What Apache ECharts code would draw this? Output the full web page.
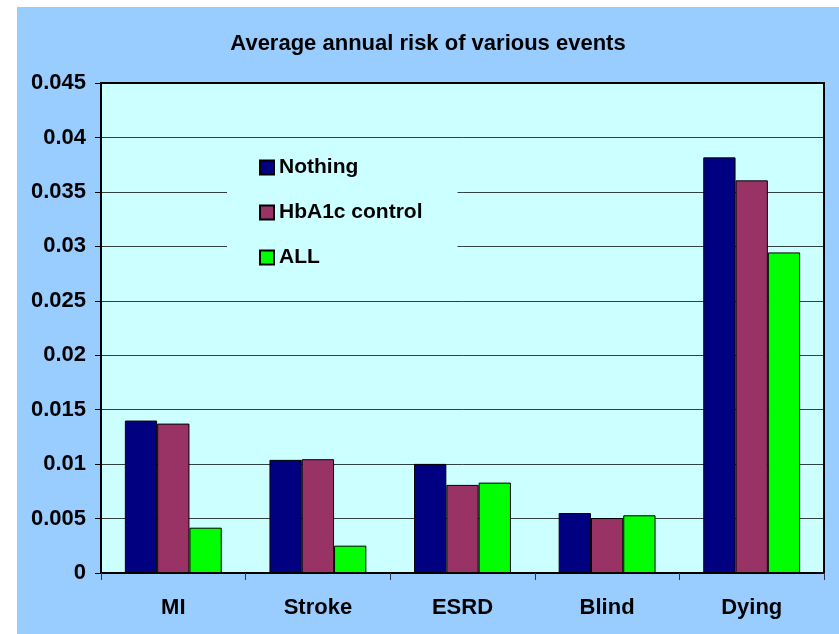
<!DOCTYPE html>
<html>
<head>
<meta charset="utf-8">
<script src="https://cdn.jsdelivr.net/npm/echarts@6/dist/echarts.min.js"></script>
<style>
  html, body { margin: 0; padding: 0; background: #ffffff; width: 839px; height: 634px; overflow: hidden; }
  #chart { position: absolute; left: 17px; top: 7px; width: 822px; height: 627px; background: #99CCFF; }
</style>
</head>
<body>
<div id="chart"></div>
<script>
// Event categories on the x axis
const categories = ['MI', 'Stroke', 'ESRD', 'Blind', 'Dying'];

// Average annual risk per strategy
const nothing = [0.0140, 0.01039, 0.01002, 0.00551, 0.03817];
const hba1cControl = [0.01372, 0.01045, 0.00809, 0.00505, 0.03606];
const allTreatments = [0.00416, 0.00251, 0.0083, 0.0053, 0.02944];

const seriesNames = ['Nothing', 'HbA1c control', 'ALL'];
const seriesColors = ['#000080', '#993366', '#00FF00'];

const font = 'Arial, "Liberation Sans", sans-serif';

const chart = echarts.init(document.getElementById('chart'), null, { renderer: 'canvas' });

function barSeries(name, data, color) {
  return {
    name: name,
    type: 'bar',
    data: data,
    barGap: '0%',
    barCategoryGap: '33%',
    itemStyle: { color: color, borderColor: '#000000', borderWidth: 1 },
    emphasis: { disabled: true }
  };
}

chart.setOption({
  animation: false,
  title: {
    text: 'Average annual risk of various events',
    left: 'center',
    top: 21,
    textStyle: { fontFamily: font, fontSize: 22, fontWeight: 'bold', color: '#000000' }
  },
  legend: {
    data: seriesNames,
    orient: 'vertical',
    left: 210,
    top: 138,
    icon: 'rect',
    itemWidth: 14,
    itemHeight: 14,
    itemGap: 24,
    padding: [12, 35, 12, 32],
    backgroundColor: '#CCFFFF',
    textStyle: { fontFamily: font, fontSize: 21, fontWeight: 'bold', color: '#000000', lineHeight: 20 }
  },
  grid: {
    left: 84,
    top: 76,
    width: 723,
    height: 490,
    show: true,
    backgroundColor: '#CCFFFF',
    borderColor: '#000000',
    borderWidth: 2
  },
  xAxis: {
    type: 'category',
    data: categories,
    axisLine: { lineStyle: { color: '#000000', width: 2 } },
    axisTick: { show: true, length: 7, lineStyle: { color: '#333333' } },
    axisLabel: { fontFamily: font, fontSize: 22, fontWeight: 'bold', color: '#000000', margin: 24 }
  },
  yAxis: {
    type: 'value',
    min: 0,
    max: 0.045,
    interval: 0.005,
    axisLine: { show: true, lineStyle: { color: '#000000', width: 2 } },
    axisTick: { show: true, length: 6, lineStyle: { color: '#000000' } },
    axisLabel: {
      fontFamily: font, fontSize: 22, fontWeight: 'bold', color: '#000000', margin: 15,
      formatter: function (v) { return String(parseFloat(v.toFixed(3))); }
    },
    splitLine: { show: true, lineStyle: { color: '#000000', width: 1, opacity: 0.75 } }
  },
  series: [
    barSeries(seriesNames[0], nothing, seriesColors[0]),
    barSeries(seriesNames[1], hba1cControl, seriesColors[1]),
    barSeries(seriesNames[2], allTreatments, seriesColors[2])
  ]
});
</script>
</body>
</html>
